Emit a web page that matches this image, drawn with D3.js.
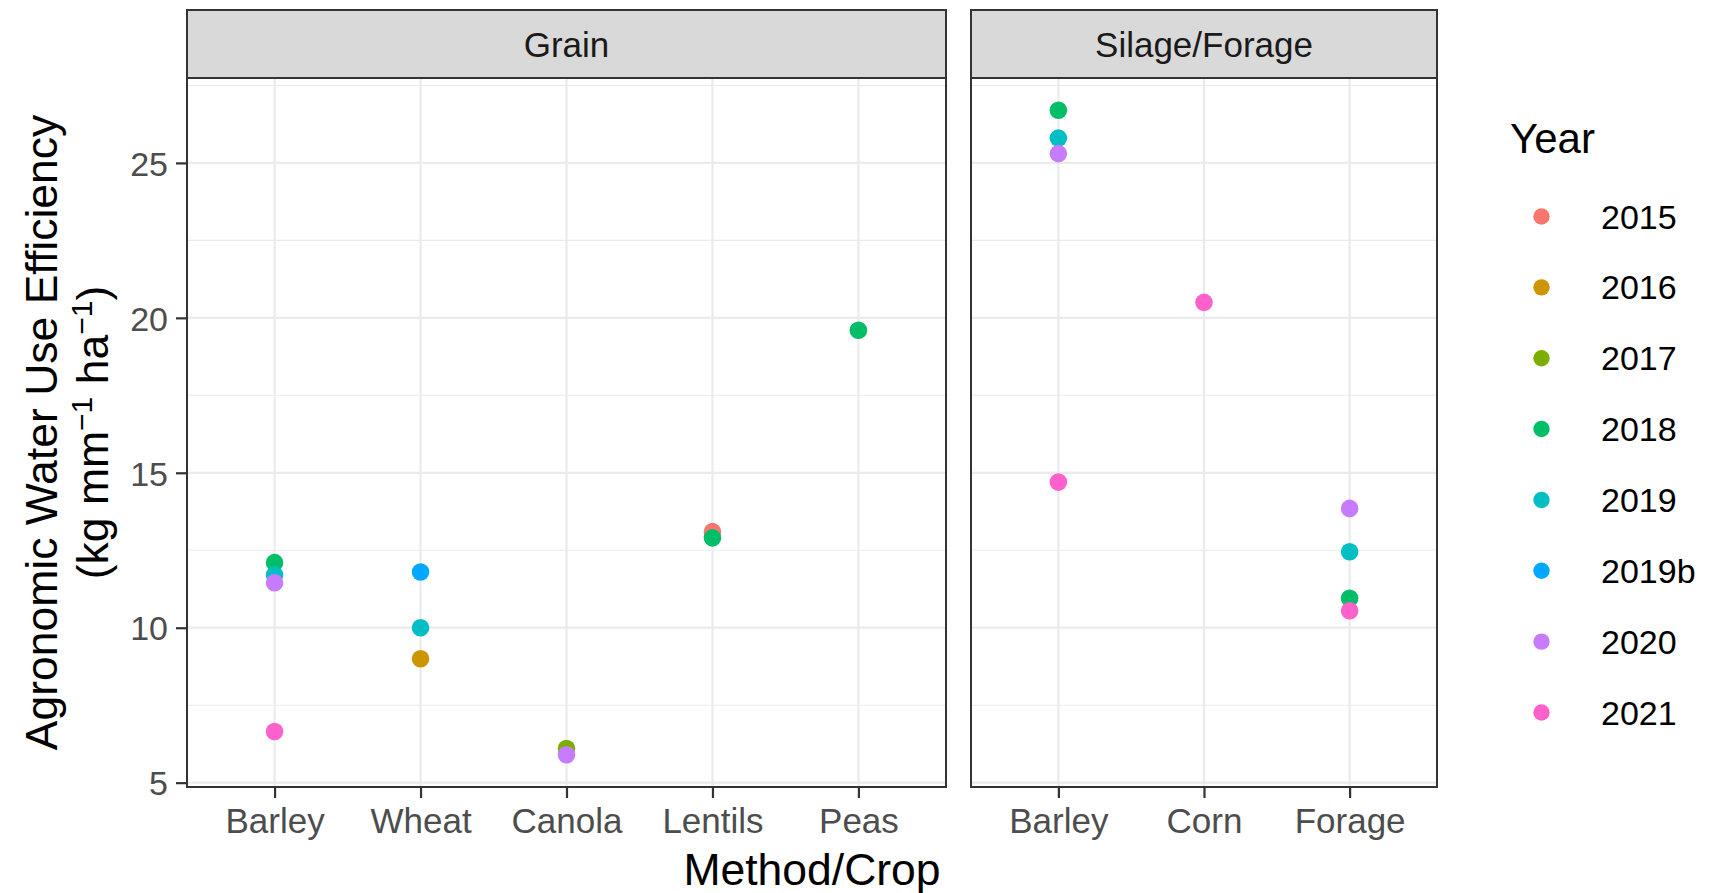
<!DOCTYPE html>
<html>
<head>
<meta charset="utf-8">
<script src="https://cdn.jsdelivr.net/npm/d3@7"></script>
<style>
  html, body { margin: 0; padding: 0; background: #ffffff; }
  svg { display: block; }
  text { font-family: "Liberation Sans", Arial, Helvetica, sans-serif; }
</style>
</head>
<body>
<svg id="chart" width="1711" height="893"></svg>
<script>
// ---------- data ----------
const years = ["2015", "2016", "2017", "2018", "2019", "2019b", "2020", "2021"];
const yearColors = ["#F8766D", "#CD9600", "#7CAE00", "#00BE67", "#00BFC4", "#00A9FF", "#C77CFF", "#FF61CC"];
const facets = ["Grain", "Silage/Forage"];
const grainCrops = ["Barley", "Wheat", "Canola", "Lentils", "Peas"];
const silageCrops = ["Barley", "Corn", "Forage"];
const yTicks = [5, 10, 15, 20, 25];

const pointFacet = ["Grain","Grain","Grain","Grain","Grain","Grain","Grain","Grain","Grain","Grain","Grain","Grain",
                    "Silage/Forage","Silage/Forage","Silage/Forage","Silage/Forage","Silage/Forage",
                    "Silage/Forage","Silage/Forage","Silage/Forage","Silage/Forage"];
const pointCrop  = ["Barley","Barley","Barley","Barley","Wheat","Wheat","Wheat","Canola","Canola","Lentils","Lentils","Peas",
                    "Barley","Barley","Barley","Barley","Corn","Forage","Forage","Forage","Forage"];
const pointYear  = ["2018","2019","2020","2021","2016","2019","2019b","2017","2020","2015","2018","2018",
                    "2018","2019","2020","2021","2021","2018","2019","2020","2021"];
const pointValue = [12.1, 11.7, 11.45, 6.65, 9.0, 10.0, 11.8, 6.1, 5.9, 13.1, 12.9, 19.6,
                    26.7, 25.8, 25.3, 14.7, 20.5, 10.95, 12.45, 13.85, 10.55];

// ---------- layout ----------
const svg = d3.select("#chart");
const panelTop = 78, panelBottom = 787;
const stripTop = 10;
const panels = [
  { name: facets[0], crops: grainCrops, x0: 187, x1: 946 },
  { name: facets[1], crops: silageCrops, x0: 971, x1: 1437 }
];
const border = "#333333";
const gridCol = "#EBEBEB";

// y scale with ggplot-like 5% expansion
const vmin = d3.min(pointValue), vmax = d3.max(pointValue);
const pad = (vmax - vmin) * 0.05;
const y = d3.scaleLinear().domain([vmin - pad, vmax + pad]).range([panelBottom, panelTop]);
const minorTicks = [];
for (let i = 0; i < yTicks.length + 1; i++) {
  const m = (yTicks[0] - 2.5) + i * 5;
  if (m > y.domain()[0] && m < y.domain()[1]) minorTicks.push(m);
}

const color = d3.scaleOrdinal().domain(years).range(yearColors);

const points = pointValue.map((v, i) => ({
  facet: pointFacet[i], crop: pointCrop[i], year: pointYear[i], value: v
})).sort((a, b) => years.indexOf(a.year) - years.indexOf(b.year));

panels.forEach((p, pi) => {
  const x = d3.scalePoint().domain(p.crops).range([p.x0, p.x1]).padding(0.6);
  const g = svg.append("g");

  g.append("rect").attr("x", p.x0).attr("y", panelTop)
    .attr("width", p.x1 - p.x0).attr("height", panelBottom - panelTop).attr("fill", "#ffffff");

  g.selectAll(".minor").data(minorTicks).join("line")
    .attr("x1", p.x0).attr("x2", p.x1)
    .attr("y1", d => y(d)).attr("y2", d => y(d))
    .attr("stroke", gridCol).attr("stroke-width", 1.1);
  g.selectAll(".majorY").data(yTicks).join("line")
    .attr("x1", p.x0).attr("x2", p.x1)
    .attr("y1", d => y(d)).attr("y2", d => y(d))
    .attr("stroke", gridCol).attr("stroke-width", 2.2);
  g.selectAll(".majorX").data(p.crops).join("line")
    .attr("x1", d => x(d)).attr("x2", d => x(d))
    .attr("y1", panelTop).attr("y2", panelBottom)
    .attr("stroke", gridCol).attr("stroke-width", 2.2);

  g.selectAll("circle").data(points.filter(d => d.facet === p.name)).join("circle")
    .attr("cx", d => x(d.crop)).attr("cy", d => y(d.value)).attr("r", 8.8)
    .attr("fill", d => color(d.year));

  g.append("rect").attr("x", p.x0).attr("y", panelTop)
    .attr("width", p.x1 - p.x0).attr("height", panelBottom - panelTop)
    .attr("fill", "none").attr("stroke", border).attr("stroke-width", 2);

  g.append("rect").attr("x", p.x0).attr("y", stripTop)
    .attr("width", p.x1 - p.x0).attr("height", panelTop - stripTop)
    .attr("fill", "#D9D9D9").attr("stroke", border).attr("stroke-width", 2);
  g.append("text").attr("x", (p.x0 + p.x1) / 2).attr("y", (stripTop + panelTop) / 2 + 12.5)
    .attr("text-anchor", "middle").attr("font-size", 35).attr("fill", "#1A1A1A").text(p.name);

  const xAxis = d3.axisBottom(x).tickSize(11).tickPadding(10);
  const ax = g.append("g").attr("transform", `translate(0,${panelBottom})`).call(xAxis);
  ax.select(".domain").remove();
  ax.selectAll(".tick line").attr("stroke", border).attr("stroke-width", 2.2);
  ax.selectAll(".tick text").attr("font-size", 35).attr("fill", "#4D4D4D")
    .attr("font-family", "Liberation Sans, Arial, sans-serif").attr("dy", "0.71em");

  if (pi === 0) {
    const yAxis = d3.axisLeft(y).tickValues(yTicks).tickSize(11).tickPadding(8);
    const ay = g.append("g").attr("transform", `translate(${p.x0},0)`).call(yAxis);
    ay.select(".domain").remove();
    ay.selectAll(".tick line").attr("stroke", border).attr("stroke-width", 2.2);
    ay.selectAll(".tick text").attr("font-size", 34).attr("fill", "#4D4D4D")
      .attr("font-family", "Liberation Sans, Arial, sans-serif").attr("dy", "0.36em");
  }
});

svg.append("text").attr("x", (panels[0].x0 + panels[1].x1) / 2).attr("y", 885)
  .attr("text-anchor", "middle").attr("font-size", 44.5).attr("fill", "#000").text("Method/Crop");

const yMid = (panelTop + panelBottom) / 2;
svg.append("text").attr("transform", `translate(57,${yMid}) rotate(-90)`)
  .attr("text-anchor", "middle").attr("font-size", 44.5).attr("fill", "#000")
  .text("Agronomic Water Use Efficiency");
const t2 = svg.append("text").attr("transform", `translate(108,${yMid}) rotate(-90)`)
  .attr("text-anchor", "middle").attr("font-size", 44.5).attr("fill", "#000");
const label2 = [["(kg mm", 0], ["\u22121", 1], [" ha", 0], ["\u22121", 1], [")", 0]];
let prevSup = 0;
label2.forEach(([s, sup]) => {
  const ts = t2.append("tspan").text(s);
  const shift = sup ? -16 : 0;
  ts.attr("dy", shift - prevSup);
  if (sup) ts.attr("font-size", 30);
  prevSup = shift;
});

const lg = svg.append("g");
lg.append("text").attr("x", 1510).attr("y", 153).attr("font-size", 42).attr("fill", "#000").text("Year");
const legY = d3.scalePoint().domain(years).range([216.5, 712.5]);
years.forEach(yr => {
  lg.append("circle").attr("cx", 1541.5).attr("cy", legY(yr)).attr("r", 8.2).attr("fill", color(yr));
  lg.append("text").attr("x", 1601).attr("y", legY(yr) + 12).attr("font-size", 34).attr("fill", "#000").text(yr);
});
</script>
</body>
</html>
